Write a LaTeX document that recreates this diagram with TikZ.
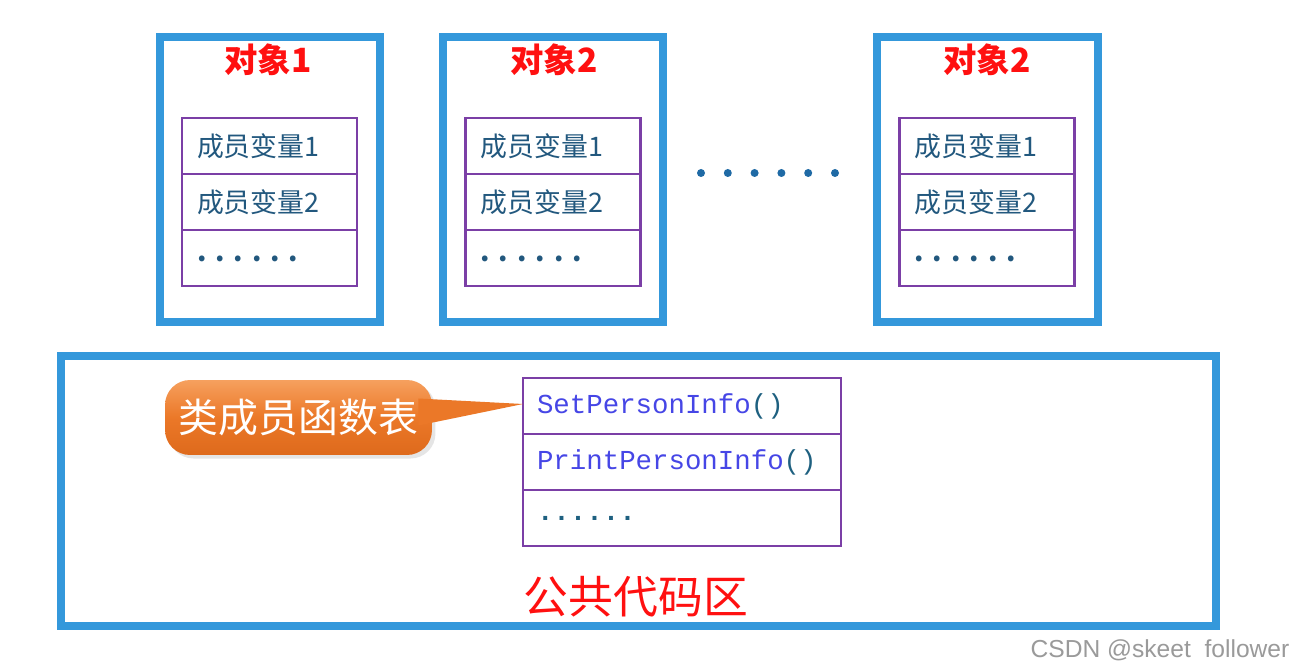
\documentclass[tikz,border=0pt]{standalone}
\usepackage{fontspec}
\setmainfont{Liberation Sans}
\setmonofont{Liberation Mono}
\newfontfamily\cjk{Noto Sans CJK SC}
\usetikzlibrary{positioning,calc,shadows}
\definecolor{boxblue}{HTML}{3498DB}
\definecolor{rowpurple}{HTML}{7B3FA6}
\definecolor{titlered}{HTML}{FF1010}
\definecolor{membertext}{HTML}{22587E}
\definecolor{funcblue}{HTML}{4646E6}
\definecolor{parenteal}{HTML}{1E6080}
\definecolor{dotblue}{HTML}{1F6AA5}
\definecolor{tagorange}{HTML}{EB7828}
\definecolor{taglight}{HTML}{F6A05E}
\definecolor{tagdark}{HTML}{DE6A1C}
\definecolor{markgray}{HTML}{9A9A9A}

\begin{document}
\begin{tikzpicture}[
  x=0.02cm,
  y=-0.02cm,
  node distance=0,
  objbox/.style={
    draw=boxblue,
    line width=0.16cm,
    minimum width=4.42cm,
    minimum height=5.7cm,
    inner sep=0
  },
  objtitle/.style={font=\cjk\bfseries\fontsize{19}{22}\selectfont, text=titlered},
  row/.style={
    draw=rowpurple,
    line width=1.4pt,
    outer sep=0,
    minimum height=1.12cm,
    text width=2.9cm,
    inner xsep=0.3cm,
    align=left,
    text=membertext,
    font=\cjk\fontsize{15.3}{18}\selectfont
  },
  funcrow/.style={
    row,
    text width=5.8cm,
    inner xsep=0.28cm,
    text=funcblue,
    font=\ttfamily\fontsize{15.6}{18}\selectfont
  },
  tagbox/.style={
    top color=taglight,
    bottom color=tagdark,
    middle color=tagorange,
    rounded corners=0.5cm,
    minimum width=5.34cm,
    minimum height=1.5cm,
    text=white,
    font=\cjk\fontsize{22.7}{26}\selectfont,
    drop shadow={opacity=0.2, shadow xshift=2pt, shadow yshift=-2pt}
  }
]

% canvas
\fill[white] (0,0) rectangle (1316,672);
\useasboundingbox (0,0) rectangle (1316,672);

% Object 1
\node[objbox] (obj1) at (270,179.5) {};
\node[objtitle] (title1) at (268,60) {对象1};
\node[row] (var11) at (269.5,146) {成员变量1};
\node[row, below=0 of var11] (var12) {成员变量2};
\node[row, below=0 of var12] (var13) {\raisebox{-4pt}{\bfseries.\ .\ .\ .\ .\ .}};

% Object 2
\node[objbox] (obj2) at (553,179.5) {};
\node[objtitle] (title2) at (554,60) {对象2};
\node[row] (var21) at (553,146) {成员变量1};
\node[row, below=0 of var21] (var22) {成员变量2};
\node[row, below=0 of var22] (var23) {\raisebox{-4pt}{\bfseries.\ .\ .\ .\ .\ .}};

% gap dots
\foreach \i in {0,...,5}
  \fill[dotblue] (701+26.8*\i,173) circle (0.08cm);

% Object 3
\node[objbox] (obj3) at (987.5,179.5) {};
\node[objtitle] (title3) at (987,60) {对象2};
\node[row] (var31) at (987,146) {成员变量1};
\node[row, below=0 of var31] (var32) {成员变量2};
\node[row, below=0 of var32] (var33) {\raisebox{-4pt}{\bfseries.\ .\ .\ .\ .\ .}};

% Public code area
\node[objbox, minimum width=23.1cm, minimum height=5.4cm] (codearea) at (638.5,491) {};
\node[font=\cjk\fontsize{25.5}{30}\selectfont, text=titlered] (codelabel) at (636,597) {公共代码区};

% Member function table
\node[funcrow] (setinfo) at (682,406) {SetPersonInfo{\color{parenteal}()}};
\node[funcrow, below=0 of setinfo] (printinfo) {PrintPersonInfo{\color{parenteal}()}};
\node[funcrow, below=0 of printinfo] (morefunc) {\color{parenteal}\bfseries......};

% Callout
\node[tagbox] (calltag) at (298.5,417.5) {类成员函数表};
\fill[tagorange] ($(calltag.east)+(-14,-19)$) -- ($(setinfo.west)+(0,-2)$)
  -- ($(calltag.east)+(-14,8)$) -- cycle;

% watermark
\node[font=\fontsize{14}{16}\selectfont, text=markgray] (mark) at (1160,650) {CSDN @skeet\ \ follower};

\end{tikzpicture}
\end{document}
